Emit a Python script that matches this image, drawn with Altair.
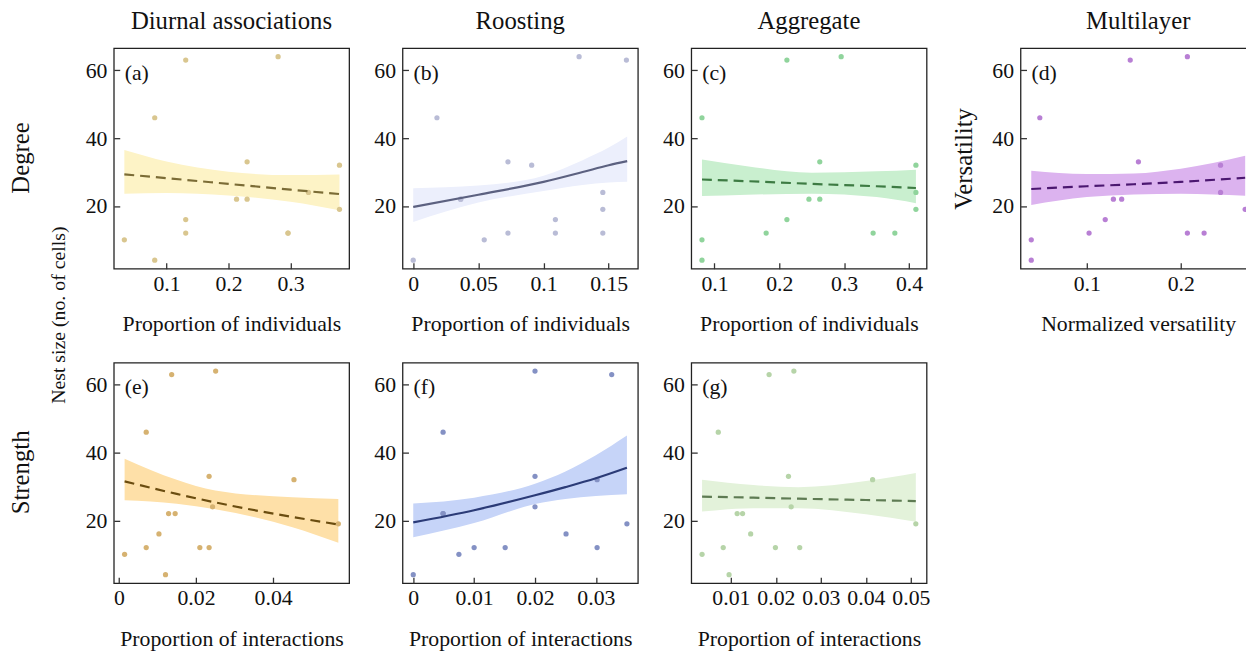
import altair as alt
import pandas as pd

FONT = "Liberation Serif"
INK = "#111111"

# ---- nest sizes / proportions ----
a_x = [0.032, 0.081, 0.081, 0.131, 0.131, 0.131, 0.213, 0.230, 0.230, 0.280, 0.296, 0.296, 0.329, 0.379, 0.379]
a_y = [10, 4, 46, 63, 16, 12, 22, 22, 33, 64, 12, 12, 24, 32, 19]
b_x = [0.0, 0.0182, 0.0364, 0.0364, 0.0545, 0.0727, 0.0727, 0.0909, 0.1091, 0.1091, 0.1273, 0.1455, 0.1455, 0.1455, 0.1636]
b_y = [4, 46, 22, 22, 10, 33, 12, 32, 16, 12, 64, 24, 19, 12, 63]
c_x = [0.0807, 0.0807, 0.0807, 0.1797, 0.2117, 0.2117, 0.2457, 0.2624, 0.2624, 0.2954, 0.3447, 0.3782, 0.4107, 0.4107, 0.4107]
c_y = [46, 10, 4, 12, 63, 16, 22, 22, 33, 64, 12, 12, 32, 24, 19]
d_x = [0.0409, 0.0409, 0.050, 0.1024, 0.1196, 0.1283, 0.1371, 0.1462, 0.1549, 0.207, 0.207, 0.2248, 0.2423, 0.2423, 0.2685]
d_y = [10, 4, 46, 12, 16, 22, 22, 63, 33, 64, 12, 12, 32, 24, 19]
e_x = [0.0015, 0.0071, 0.0071, 0.0104, 0.0121, 0.0129, 0.0146, 0.0137, 0.0210, 0.0234, 0.0234, 0.0243, 0.0251, 0.0454, 0.0569]
e_y = [10, 46, 12, 16, 4, 22, 22, 63, 12, 12, 33, 24, 64, 32, 19]
f_x = [0.0, 0.0049, 0.0049, 0.0049, 0.0075, 0.0100, 0.0151, 0.0200, 0.0200, 0.0200, 0.0251, 0.0302, 0.0302, 0.0326, 0.0351]
f_y = [4, 46, 22, 22, 10, 12, 12, 64, 33, 24, 16, 32, 12, 63, 19]
g_x = [0.0036, 0.0072, 0.0083, 0.0096, 0.0114, 0.0126, 0.0144, 0.0185, 0.0199, 0.0228, 0.0234, 0.0240, 0.0253, 0.0415, 0.0511]
g_y = [10, 46, 12, 4, 22, 22, 16, 63, 12, 33, 24, 64, 12, 32, 19]

# ---- fitted trends and confidence bands ----
a_tx = [0.032, 0.1, 0.2, 0.3, 0.379]
a_fit = [29.3, 28.2, 26.5, 24.8, 23.5]
a_lo = [23.6, 23.8, 23.1, 21.2, 18.7]
a_hi = [36.5, 33.1, 30.1, 29.1, 29.3]

b_tx = [0.0, 0.05, 0.1, 0.13, 0.15, 0.1642]
b_fit = [19.7, 23.3, 27.1, 30.0, 32.0, 33.2]
b_lo = [15.3, 21.0, 24.4, 26.2, 26.9, 27.1]
b_hi = [25.2, 26.0, 28.9, 33.5, 37.2, 40.5]

c_tx = [0.0807, 0.15, 0.25, 0.35, 0.4107]
c_fit = [27.8, 27.3, 26.5, 25.8, 25.3]
c_lo = [22.9, 23.3, 23.6, 22.6, 20.8]
c_hi = [33.7, 31.7, 29.8, 30.2, 30.7]

d_tx = [0.0409, 0.1, 0.15, 0.2, 0.2685]
d_fit = [25.0, 25.8, 26.4, 27.1, 28.3]
d_lo = [20.3, 22.6, 23.4, 23.6, 23.0]
d_hi = [30.4, 29.4, 29.6, 31.0, 34.8]

e_tx = [0.0015, 0.015, 0.025, 0.045, 0.0569]
e_fit = [31.5, 27.8, 25.3, 21.0, 18.8]
e_lo = [25.9, 24.9, 23.3, 18.0, 13.4]
e_hi = [38.2, 32.0, 28.8, 26.8, 26.3]

f_tx = [0.0, 0.01, 0.02, 0.025, 0.03, 0.0351]
f_fit = [19.4, 23.0, 27.4, 29.8, 32.4, 35.5]
f_lo = [15.0, 19.2, 24.8, 26.3, 27.2, 27.7]
f_hi = [25.0, 26.7, 30.8, 34.4, 39.2, 45.0]

g_tx = [0.0036, 0.015, 0.025, 0.04, 0.0511]
g_fit = [27.0, 26.7, 26.4, 26.0, 25.7]
g_lo = [22.6, 23.6, 23.6, 21.8, 19.6]
g_hi = [32.0, 30.4, 29.8, 31.6, 34.0]

col_titles = ["Diurnal associations", "Roosting", "Aggregate", "Multilayer"]
row_labels = ["Degree", "Strength"]
y_label = "Nest size (no. of cells)"
y_ticks = [20, 40, 60]
YDOM = [1.5, 66.5]

W, H = 238, 223


def panel(px, py, tx, fit, lo, hi, pcol, bcol, lcol, dashed, xdom, xticks,
          letter, xtitle, coltitle=None, texts=()):
    pts = pd.DataFrame({"x": px, "y": py})
    tr = pd.DataFrame({"x": tx, "fit": fit, "lo": lo, "hi": hi})
    xs = alt.Scale(domain=xdom, nice=False, zero=False)
    ys = alt.Scale(domain=YDOM, nice=False, zero=False)
    xaxis = alt.Axis(values=xticks, format="~g", title=xtitle, domain=False, grid=False,
                     ticks=True, tickSize=6, tickWidth=1.3, tickColor="#333333", offset=-6,
                     labelPadding=5, labelFont=FONT, labelFontSize=22, labelColor=INK,
                     labelFlush=False, labelOverlap=False,
                     titleFont=FONT, titleFontSize=22, titleFontWeight="normal",
                     titleColor=INK, titlePadding=20)
    yaxis = alt.Axis(values=y_ticks, title=None, domain=False, grid=False, ticks=True,
                     tickSize=6, tickWidth=1.3, tickColor="#333333", offset=-6,
                     labelPadding=7, labelFont=FONT, labelFontSize=22, labelColor=INK,
                     labelOverlap=False)
    X = alt.X("x:Q", scale=xs, axis=xaxis)
    band = alt.Chart(tr).mark_area(color=bcol, opacity=1, interpolate="monotone").encode(
        x=X, y=alt.Y("lo:Q", scale=ys, axis=yaxis), y2="hi:Q")
    dots = alt.Chart(pts).mark_circle(size=28, color=pcol, opacity=1).encode(
        x=X, y=alt.Y("y:Q", scale=ys, axis=yaxis))
    lkw = dict(color=lcol, strokeWidth=2.2, interpolate="monotone")
    if dashed:
        lkw["strokeDash"] = [10, 6]
    line = alt.Chart(tr).mark_line(**lkw).encode(x=X, y=alt.Y("fit:Q", scale=ys, axis=yaxis))
    lab = alt.Chart(pd.DataFrame({"t": [letter]})).mark_text(
        align="left", baseline="middle", font=FONT, fontSize=22, color=INK).encode(
        x=alt.value(11), y=alt.value(25), text="t:N")
    layers = [band, dots, line, lab]
    if coltitle:
        layers.append(alt.Chart(pd.DataFrame({"t": [coltitle]})).mark_text(
            align="center", baseline="alphabetic", font=FONT, fontSize=25,
            color=INK).encode(x=alt.value(W / 2), y=alt.value(-19), text="t:N"))
    for (t, xx, yy, fs) in texts:
        layers.append(alt.Chart(pd.DataFrame({"t": [t]})).mark_text(
            align="center", baseline="middle", angle=270, font=FONT, fontSize=fs,
            color=INK).encode(x=alt.value(xx), y=alt.value(yy), text="t:N"))
    return alt.layer(*layers).properties(width=W, height=H)


def spacer(w):
    return alt.Chart(pd.DataFrame({"v": [0]})).mark_point(opacity=0).encode(
        x=alt.value(0), y=alt.value(0)).properties(
        width=w, height=10, view=alt.ViewBackground(stroke=None))


pa = panel(a_x, a_y, a_tx, a_fit, a_lo, a_hi, "#d9c68f", "#fdf3c6", "#7b6c36", True,
           [0.015, 0.3946], [0.1, 0.2, 0.3], "(a)", "Proportion of individuals", col_titles[0],
           texts=[(row_labels[0], -94, 111, 25), (y_label, -55, 270, 20)])
pb = panel(b_x, b_y, b_tx, b_fit, b_lo, b_hi, "#b9bcd6", "#eceffc", "#5c6180", False,
           [-0.0082, 0.1724], [0, 0.05, 0.1, 0.15], "(b)", "Proportion of individuals", col_titles[1])
pc = panel(c_x, c_y, c_tx, c_fit, c_lo, c_hi, "#90d49c", "#c9efcf", "#3d7b43", True,
           [0.0642, 0.4272], [0.1, 0.2, 0.3, 0.4], "(c)", "Proportion of individuals", col_titles[2])
pd_ = panel(d_x, d_y, d_tx, d_fit, d_lo, d_hi, "#b87fd4", "#dcb3ef", "#4b1770", True,
            [0.0295, 0.2799], [0.1, 0.2], "(d)", "Normalized versatility", col_titles[3],
            texts=[("Versatility", -57, 112, 25)])
pe = panel(e_x, e_y, e_tx, e_fit, e_lo, e_hi, "#d6b271", "#fee0a8", "#6b4d10", True,
           [-0.0013, 0.0597], [0, 0.02, 0.04], "(e)", "Proportion of interactions",
           texts=[(row_labels[1], -94, 111, 25)])
pf = panel(f_x, f_y, f_tx, f_fit, f_lo, f_hi, "#8491c4", "#c6d4f8", "#2b3b77", False,
           [-0.00176, 0.0369], [0, 0.01, 0.02, 0.03], "(f)", "Proportion of interactions")
pg = panel(g_x, g_y, g_tx, g_fit, g_lo, g_hi, "#b6d4a8", "#e3f2da", "#5e7b53", True,
           [0.0012, 0.0535], [0.01, 0.02, 0.03, 0.04, 0.05], "(g)", "Proportion of interactions")

# one flat grid: panels separated by thin spacer columns (flush bounds = plot areas only)
chart = alt.concat(
    pa, spacer(4), pb, spacer(4), pc, spacer(45), pd_,
    pe, spacer(4), pf, spacer(4), pg,
    columns=7, spacing={"row": 95, "column": 25}, bounds="flush"
).properties(
    padding={"left": 0, "top": -3, "right": -11, "bottom": 0}, background="white"
).configure_view(stroke="#222222", strokeWidth=1.3)

chart.save("out.html", embed_options={"renderer": "svg", "actions": False})
